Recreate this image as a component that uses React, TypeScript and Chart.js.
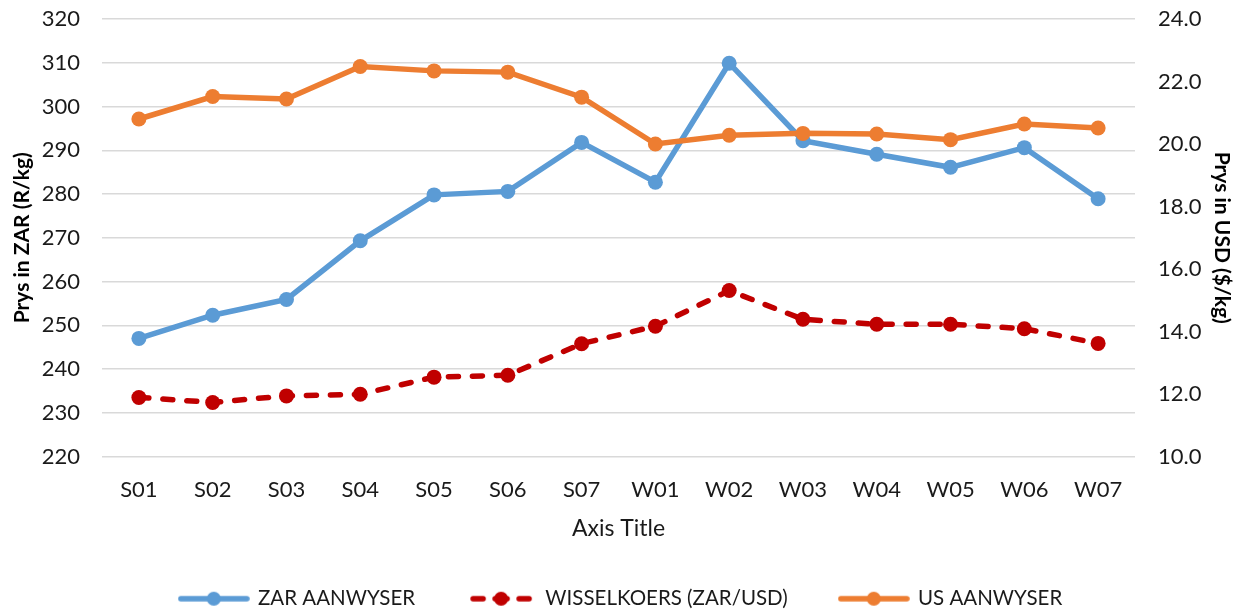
import React, { useEffect, useRef } from "react";
import { Chart, registerables } from "chart.js";

Chart.register(...registerables);

const categories = ["S01", "S02", "S03", "S04", "S05", "S06", "S07", "W01", "W02", "W03", "W04", "W05", "W06", "W07"];
const zarAanwyser = [247.0, 252.3, 255.9, 269.3, 279.8, 280.6, 291.8, 282.7, 309.9, 292.2, 289.1, 286.1, 290.6, 278.9];
const wisselkoers = [11.89, 11.73, 11.94, 11.99, 12.54, 12.6, 13.61, 14.17, 15.31, 14.39, 14.23, 14.23, 14.09, 13.62];
const usAanwyser = [20.8, 21.52, 21.44, 22.48, 22.34, 22.3, 21.5, 20.0, 20.28, 20.34, 20.32, 20.14, 20.64, 20.51];
const seriesNames = ["ZAR AANWYSER", "WISSELKOERS (ZAR/USD)", "US AANWYSER"];

const BLUE = "#5B9BD5";
const RED = "#C00000";
const ORANGE = "#ED7D31";
const TEXT = "#1a1a1a";
const GRID = "#D9D9D9";
const FONT = "Lato";

function makeIcon(color: string, dashed: boolean) {
  const c = document.createElement("canvas");
  c.width = dashed ? 64 : 72;
  c.height = 18;
  const ctx = c.getContext("2d")!;
  ctx.strokeStyle = color;
  ctx.fillStyle = color;
  ctx.lineWidth = 5.5;
  ctx.lineCap = "round";
  ctx.beginPath();
  const mid = c.width / 2;
  if (dashed) {
    ctx.moveTo(4, 9);
    ctx.lineTo(14, 9);
    ctx.moveTo(26, 9);
    ctx.lineTo(38, 9);
    ctx.moveTo(50, 9);
    ctx.lineTo(60, 9);
  } else {
    ctx.moveTo(3, 9);
    ctx.lineTo(c.width - 3, 9);
  }
  ctx.stroke();
  ctx.beginPath();
  ctx.arc(mid, 9, 7, 0, Math.PI * 2);
  ctx.fill();
  return c;
}

export default function App() {
  const ref = useRef<HTMLCanvasElement>(null);

  useEffect(() => {
    const icons = [makeIcon(BLUE, false), makeIcon(RED, true), makeIcon(ORANGE, false)];
    const colors = [BLUE, RED, ORANGE];
    const chart = new Chart(ref.current!, {
      type: "line",
      data: {
        labels: categories,
        datasets: [
          {
            label: seriesNames[0],
            data: zarAanwyser,
            yAxisID: "y",
            borderColor: BLUE,
            backgroundColor: BLUE,
            borderWidth: 5.5,
            pointRadius: 7.5,
            pointBorderWidth: 0,
            tension: 0,
            order: 2,
          },
          {
            label: seriesNames[1],
            data: wisselkoers,
            yAxisID: "y1",
            borderColor: RED,
            backgroundColor: RED,
            borderWidth: 5.5,
            borderDash: [10, 14],
            borderCapStyle: "round",
            pointRadius: 7.5,
            pointBorderWidth: 0,
            tension: 0,
            order: 1,
          },
          {
            label: seriesNames[2],
            data: usAanwyser,
            yAxisID: "y1",
            borderColor: ORANGE,
            backgroundColor: ORANGE,
            borderWidth: 5.5,
            pointRadius: 7.5,
            pointBorderWidth: 0,
            tension: 0,
            order: 0,
          },
        ],
      },
      options: {
        responsive: false,
        animation: false,
        events: [],
        layout: { padding: { top: 19, left: 0, right: 0, bottom: -9 } },
        plugins: {
          tooltip: { enabled: false },
          legend: {
            position: "bottom",
            labels: {
              usePointStyle: true,
              pointStyleWidth: 68,
              padding: 52,
              color: TEXT,
              font: { family: FONT, size: 20.5 },
              generateLabels: () =>
                seriesNames.map((name, i) => ({
                  text: name,
                  fillStyle: colors[i],
                  strokeStyle: colors[i],
                  lineWidth: 0,
                  pointStyle: icons[i] as any,
                  hidden: false,
                  datasetIndex: i,
                  fontColor: TEXT,
                })),
            },
          },
        },
        scales: {
          x: {
            offset: true,
            grid: { display: false, drawTicks: false },
            border: { display: false },
            ticks: { color: TEXT, font: { family: FONT, size: 22 }, padding: 20, maxRotation: 0, autoSkip: false },
            title: {
              display: true,
              text: "Axis Title",
              color: TEXT,
              font: { family: FONT, size: 23 },
              padding: { top: 0, bottom: -6 },
            },
            afterFit: (s: any) => {
              s.height = 80;
            },
          },
          y: {
            position: "left",
            min: 220,
            max: 320,
            grid: { color: GRID, lineWidth: 1.5, drawTicks: false },
            border: { display: false },
            ticks: { stepSize: 10, color: TEXT, font: { family: FONT, size: 22 }, padding: 22 },
            title: {
              display: true,
              text: "Prys in ZAR (R/kg)",
              color: "#000",
              font: { family: FONT, size: 21, weight: "bold" },
              padding: { top: 10, bottom: 0 },
            },
            afterFit: (s: any) => {
              s.width = 102;
              s.paddingTop = 0;
              s.paddingBottom = 0;
            },
          },
          y1: {
            position: "right",
            min: 10,
            max: 24,
            grid: { display: false, drawTicks: false },
            border: { display: false },
            ticks: {
              stepSize: 2,
              color: TEXT,
              font: { family: FONT, size: 22 },
              padding: 23,
              callback: (v: any) => Number(v).toFixed(1),
            },
            title: {
              display: true,
              text: "Prys in USD ($/kg)",
              color: "#000",
              font: { family: FONT, size: 21, weight: "bold" },
              padding: { top: 8, bottom: 0 },
            },
            afterFit: (s: any) => {
              s.width = 107;
              s.paddingTop = 0;
              s.paddingBottom = 0;
            },
          },
        },
      },
    });
    return () => chart.destroy();
  }, []);

  return (
    <div style={{ position: "fixed", left: 0, top: 0, width: 1242, height: 610, background: "#fff" }}>
      <canvas ref={ref} width={1242} height={610} style={{ display: "block" }} />
    </div>
  );
}
